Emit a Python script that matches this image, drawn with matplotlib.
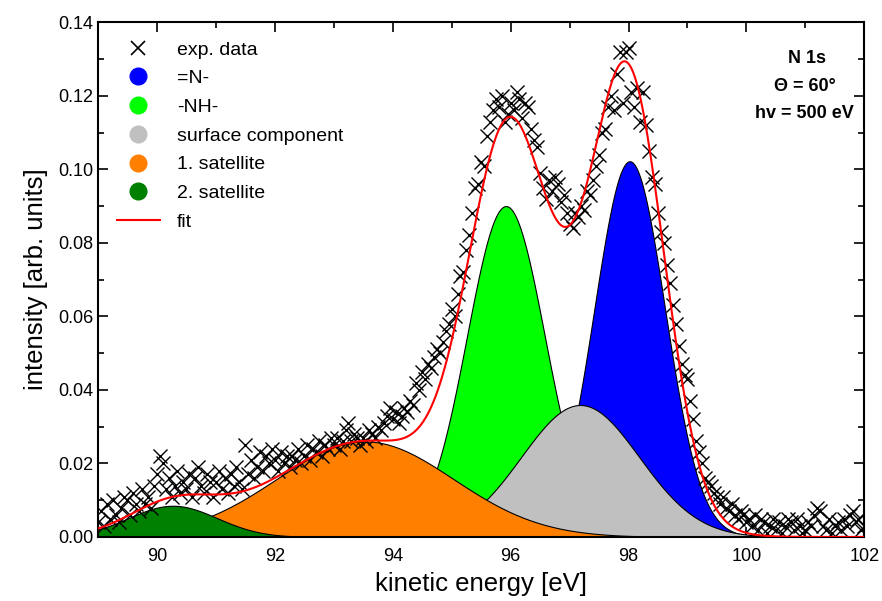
import matplotlib
matplotlib.use('Agg')
from matplotlib import pyplot as plt
from matplotlib.lines import Line2D
import numpy as np

plt.rcParams['font.family'] = ['Liberation Sans', 'DejaVu Sans']

# measured N 1s spectrum, 0.05 eV steps from 89 to 102 eV
energy = np.round(np.arange(89.0, 102.001, 0.05), 2)
intensity = [
    0.004, 0.007, 0.003, 0.009, 0.005, 0.010, 0.006, 0.004, 0.008, 0.011,
    0.010, 0.006, 0.012, 0.009, 0.007, 0.013, 0.009, 0.011, 0.008, 0.014,
    0.017, 0.022, 0.020, 0.013, 0.016, 0.011, 0.014, 0.018, 0.012, 0.015,
    0.013, 0.017, 0.011, 0.016, 0.019, 0.014, 0.012, 0.017, 0.015, 0.011,
    0.015, 0.018, 0.013, 0.016, 0.012, 0.017, 0.014, 0.019, 0.015, 0.013,
    0.025, 0.017, 0.021, 0.016, 0.019, 0.023, 0.018, 0.022, 0.020, 0.024,
    0.021, 0.018, 0.023, 0.020, 0.022, 0.019, 0.022, 0.021, 0.024, 0.020,
    0.022, 0.025, 0.021, 0.024, 0.023, 0.026, 0.022, 0.025, 0.024, 0.027,
    0.025, 0.027, 0.024, 0.026, 0.029, 0.031, 0.026, 0.028, 0.027, 0.025,
    0.027, 0.026, 0.029, 0.028, 0.027, 0.030, 0.029, 0.031, 0.033, 0.035,
    0.032, 0.034, 0.031, 0.033, 0.035, 0.034, 0.037, 0.036, 0.042, 0.040,
    0.045, 0.043, 0.047, 0.046, 0.049, 0.051, 0.050, 0.053, 0.056, 0.058,
    0.062, 0.060, 0.066, 0.071, 0.072, 0.078, 0.082, 0.088, 0.095, 0.096,
    0.102, 0.101, 0.109, 0.113, 0.116, 0.119, 0.117, 0.120, 0.113, 0.115,
    0.118, 0.116, 0.121, 0.119, 0.114, 0.118, 0.117, 0.111, 0.108, 0.106,
    0.099, 0.095, 0.092, 0.097, 0.094, 0.098, 0.096, 0.091, 0.093, 0.088,
    0.085, 0.084, 0.088, 0.087, 0.090, 0.089, 0.094, 0.093, 0.097, 0.101,
    0.104, 0.110, 0.111, 0.117, 0.120, 0.116, 0.126, 0.132, 0.118, 0.132,
    0.133, 0.121, 0.117, 0.122, 0.113, 0.121, 0.112, 0.105, 0.098, 0.096,
    0.088, 0.083, 0.080, 0.074, 0.069, 0.063, 0.058, 0.052, 0.047, 0.044,
    0.043, 0.037, 0.032, 0.026, 0.023, 0.020, 0.016, 0.015, 0.014, 0.012,
    0.011, 0.009, 0.011, 0.008, 0.007, 0.009, 0.006, 0.005, 0.007, 0.006,
    0.004, 0.005, 0.003, 0.006, 0.002, 0.005, 0.004, 0.001, 0.003, 0.005,
    0.002, 0.004, 0.001, 0.003, 0.005, 0.004, 0.002, 0.005, 0.003, 0.001,
    0.002, 0.004, 0.003, 0.006, 0.008, 0.007, 0.003, 0.002, 0.005, 0.001,
    0.003, 0.004, 0.002, 0.005, 0.003, 0.006, 0.007, 0.004, 0.005, 0.002,
    0.003,
]

# gaussian fit components, in legend order (later ones are drawn on top)
comp_names = ["=N-", "-NH-", "surface component", "1. satellite", "2. satellite"]
comp_colors = ["#0000ff", "#00ff00", "#c0c0c0", "#ff8000", "#008000"]
comp_center = [98.02, 95.92, 97.18, 93.53, 90.27]
comp_height = [0.1022, 0.0900, 0.0359, 0.0260, 0.0085]
comp_sigma = [0.60, 0.66, 1.00, 1.50, 0.75]

e_fine = np.linspace(89, 102, 1301)
components = []
for c, h, s in zip(comp_center, comp_height, comp_sigma):
    components.append(h * np.exp(-(e_fine - c) ** 2 / (2 * s ** 2)))
fit = np.sum(components, axis=0)

fig = plt.figure(figsize=(8.82, 6.01), dpi=100)
ax = fig.add_axes([0.111, 0.1065, 0.869, 0.8565])

for comp, col in zip(components, comp_colors):
    ax.fill_between(e_fine, 0, comp, facecolor=col, edgecolor='black', linewidth=0.8, zorder=2)

ax.plot(energy, intensity, linestyle='none', marker='x', color='black',
        markersize=9.5, markeredgewidth=1.0, zorder=3)
ax.plot(e_fine, fit, color='red', linewidth=1.5, zorder=4)

ax.set_xlim(89, 102)
ax.set_ylim(0, 0.14)
ax.set_xticks(np.arange(90, 102.1, 2))
ax.set_xticks(np.arange(89, 102.1, 1), minor=True)
ax.set_yticks(np.arange(0, 0.141, 0.02))
ax.set_yticks(np.arange(0, 0.141, 0.01), minor=True)
ax.yaxis.set_major_formatter(matplotlib.ticker.FormatStrFormatter('%.2f'))
ax.tick_params(which='both', direction='in', top=True, right=True, width=1.2, labelsize=13)
ax.tick_params(which='major', length=7)
ax.tick_params(which='minor', length=4)
ax.tick_params(axis='x', pad=8)
for sp in ax.spines.values():
    sp.set_linewidth(1.5)

ax.set_xlabel("kinetic energy [eV]", fontsize=18.5, labelpad=5)
ax.set_ylabel("intensity [arb. units]", fontsize=18.5, labelpad=7)

# legend: crosses, filled circles for components, red line
handles = [Line2D([], [], linestyle='none', marker='x', color='black', markersize=10, markeredgewidth=1.2)]
labels = ["exp. data"]
for name, col in zip(comp_names, comp_colors):
    handles.append(Line2D([], [], linestyle='none', marker='o', markersize=12,
                          markerfacecolor=col, markeredgecolor=col))
    labels.append(name)
handles.append(Line2D([], [], color='red', linewidth=1.5))
labels.append("fit")
ax.legend(handles, labels, loc='upper left', bbox_to_anchor=(0.007, 0.99), frameon=False,
          fontsize=14, labelspacing=0.57, handlelength=2.2, handletextpad=0.9, borderaxespad=0.3)

ax.text(0.925, 0.929, "N 1s", transform=ax.transAxes, ha='center', va='center', fontsize=13, fontweight='bold')
ax.text(0.922, 0.876, "Θ = 60°", transform=ax.transAxes, ha='center', va='center', fontsize=13, fontweight='bold')
ax.text(0.922, 0.823, "hv = 500 eV", transform=ax.transAxes, ha='center', va='center', fontsize=13, fontweight='bold')

fig.savefig("out.png", dpi=100)
